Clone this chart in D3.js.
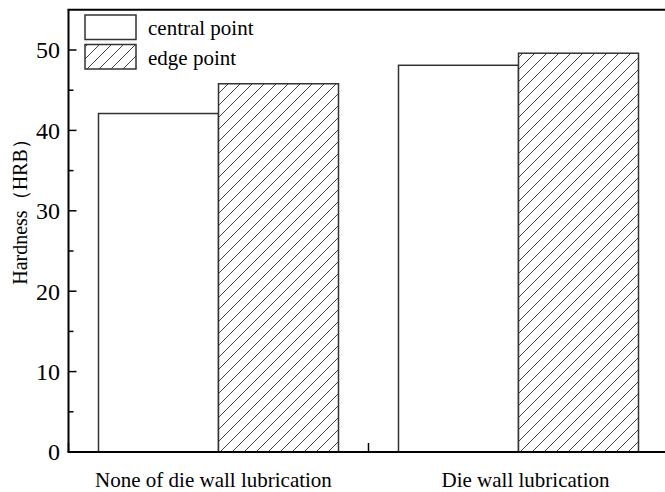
<!DOCTYPE html>
<html>
<head>
<meta charset="utf-8">
<script src="https://cdn.jsdelivr.net/npm/d3@7"></script>
<style>
  html, body { margin: 0; padding: 0; background: #fff; }
  svg { display: block; }
  text { font-family: "Liberation Serif", "Times New Roman", serif; fill: #000; }
</style>
</head>
<body>
<svg id="chart" width="665" height="492"></svg>
<script>
// ---- data ----
const categories = ["None of die wall lubrication", "Die wall lubrication"];
const seriesNames = ["central point", "edge point"];
const centralValues = [42.1, 48.1];
const edgeValues = [45.8, 49.6];
const yTickValues = [0, 10, 20, 30, 40, 50];
const yAxisTitle = "Hardness（HRB）";

const svg = d3.select("#chart");
const W = 665, H = 492;

// scales
const x = d3.scaleLinear().domain([0.5, 2.5]).range([68.5, 668.5]);
const y = d3.scaleLinear().domain([0, 55]).range([452, 9.8]);
const halfBar = 0.4;
const labelShift = [-5, 7];

// hatch pattern
const defs = svg.append("defs");
const pat = defs.append("pattern")
  .attr("id", "hatch")
  .attr("patternUnits", "userSpaceOnUse")
  .attr("width", 12).attr("height", 12);
pat.append("rect").attr("width", 12).attr("height", 12).attr("fill", "#fff");
pat.append("path")
  .attr("d", "M0,12 L12,0 M-3,3 L3,-3 M9,15 L15,9")
  .attr("stroke", "#444").attr("stroke-width", 1).attr("fill", "none");

// ticks (inward) - drawn first, bars may cover some
const g = svg.append("g");
const yMinor = d3.range(5, 55, 10);
g.selectAll(".ymaj").data(yTickValues).join("line")
  .attr("x1", x(0.5)).attr("x2", x(0.5) + 8)
  .attr("y1", d => y(d)).attr("y2", d => y(d))
  .attr("stroke", "#000").attr("stroke-width", 1.5);
g.selectAll(".ymin").data(yMinor).join("line")
  .attr("x1", x(0.5)).attr("x2", x(0.5) + 5)
  .attr("y1", d => y(d)).attr("y2", d => y(d))
  .attr("stroke", "#000").attr("stroke-width", 1.5);

const xMajor = d3.range(0.5, 2.51, 0.5);
const xMinor = d3.range(0.75, 2.5, 0.5);
g.selectAll(".xmaj").data(xMajor).join("line")
  .attr("x1", d => x(d)).attr("x2", d => x(d))
  .attr("y1", y(0)).attr("y2", y(0) - 9)
  .attr("stroke", "#000").attr("stroke-width", 1.5);
g.selectAll(".xmin").data(xMinor).join("line")
  .attr("x1", d => x(d)).attr("x2", d => x(d))
  .attr("y1", y(0)).attr("y2", y(0) - 5)
  .attr("stroke", "#000").attr("stroke-width", 1.5);

// bars
const bars = svg.append("g");
categories.forEach((c, i) => {
  const pos = i + 1;
  bars.append("rect")
    .attr("x", x(pos - halfBar)).attr("y", y(centralValues[i]))
    .attr("width", x(pos) - x(pos - halfBar))
    .attr("height", y(0) - y(centralValues[i]))
    .attr("fill", "#fff").attr("stroke", "#333").attr("stroke-width", 1.5);
  bars.append("rect")
    .attr("x", x(pos)).attr("y", y(edgeValues[i]))
    .attr("width", x(pos + halfBar) - x(pos))
    .attr("height", y(0) - y(edgeValues[i]))
    .attr("fill", "url(#hatch)").attr("stroke", "#333").attr("stroke-width", 1.5);
});

// axes lines / frame
svg.append("line").attr("x1", x(0.5)).attr("x2", x(0.5)).attr("y1", y(55)).attr("y2", y(0))
  .attr("stroke", "#000").attr("stroke-width", 2);
svg.append("line").attr("x1", x(0.5) - 1).attr("x2", W).attr("y1", y(0)).attr("y2", y(0))
  .attr("stroke", "#000").attr("stroke-width", 2);
svg.append("line").attr("x1", x(0.5) - 1).attr("x2", W).attr("y1", y(55)).attr("y2", y(55))
  .attr("stroke", "#000").attr("stroke-width", 2);

// y tick labels
svg.selectAll(".ylab").data(yTickValues).join("text")
  .attr("x", 60).attr("y", d => y(d))
  .attr("dy", "0.35em")
  .attr("text-anchor", "end")
  .style("font-size", "24px")
  .text(d => d);

// x category labels
svg.selectAll(".xlab").data(categories).join("text")
  .attr("x", (d, i) => x(i + 1) + labelShift[i])
  .attr("y", 487)
  .attr("text-anchor", "middle")
  .style("font-size", "21px")
  .text(d => d);

// y axis title
svg.append("text")
  .attr("transform", "translate(27,207) rotate(-90)")
  .attr("text-anchor", "middle")
  .style("font-size", "20px")
  .text(yAxisTitle);

// legend
const legend = svg.append("g");
const legendFills = ["#fff", "url(#hatch)"];
seriesNames.forEach((s, i) => {
  const top = 15 + i * 29.5;
  legend.append("rect")
    .attr("x", 85).attr("y", top).attr("width", 51).attr("height", 24.5)
    .attr("fill", legendFills[i]).attr("stroke", "#333").attr("stroke-width", 1.5);
  legend.append("text")
    .attr("x", 148).attr("y", top + 20)
    .style("font-size", "21px")
    .text(s);
});
</script>
</body>
</html>
